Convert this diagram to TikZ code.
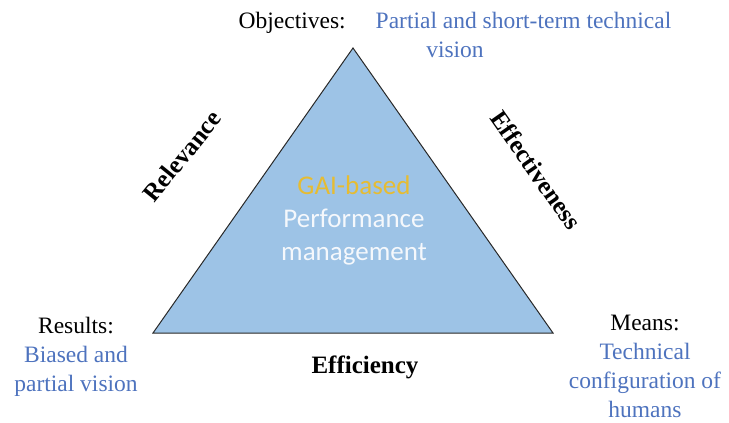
\documentclass[tikz,border=0pt]{standalone}
\usepackage{fontspec}
\setmainfont{Liberation Serif}
\newfontfamily\calfont{Carlito}
\definecolor{trifill}{RGB}{157,195,230}
\definecolor{tribord}{RGB}{40,40,40}
\definecolor{desc}{RGB}{78,115,190}
\definecolor{gold}{RGB}{230,188,50}
\definecolor{paleW}{RGB}{245,248,252}
\begin{document}
\begin{tikzpicture}[x=1pt,y=-1pt,
  lbl/.style={font=\fontsize{25}{28}\selectfont\bfseries, inner sep=0pt},
  dsc/.style={font=\fontsize{23.5}{29}\selectfont, align=center, inner sep=0pt},
  ctr/.style={font=\calfont\fontsize{27}{33}\selectfont, align=center, inner sep=0pt}]
\useasboundingbox (0,0) rectangle (729,423);
\coordinate (apex) at (353,48);
\coordinate (bl) at (153,333);
\coordinate (br) at (553,333);
\draw[tribord, fill=trifill, line width=1pt, line join=miter] (apex) -- (bl) -- (br) -- cycle;
\node[ctr] (center) at (354,220) {\textcolor{gold}{GAI-based}\\\textcolor{paleW}{Performance}\\\textcolor{paleW}{management}};
\node[dsc] (obj) at (455,35) {Objectives:\hspace{30pt}\textcolor{desc}{Partial and short-term technical}\\\textcolor{desc}{vision}};
\node[dsc] (res) at (76,357) {Results:\\\textcolor{desc}{Biased and}\\\textcolor{desc}{partial vision}};
\node[dsc] (mea) at (645,366) {Means:\\\textcolor{desc}{Technical}\\\textcolor{desc}{configuration of}\\\textcolor{desc}{humans}};
\node[lbl] (eff) at (365,367) {Efficiency};
\node[lbl, rotate=51] (rel) at (182,156) {Relevance};
\node[lbl, rotate=-55] (effe) at (536,170) {Effectiveness};
\end{tikzpicture}
\end{document}
